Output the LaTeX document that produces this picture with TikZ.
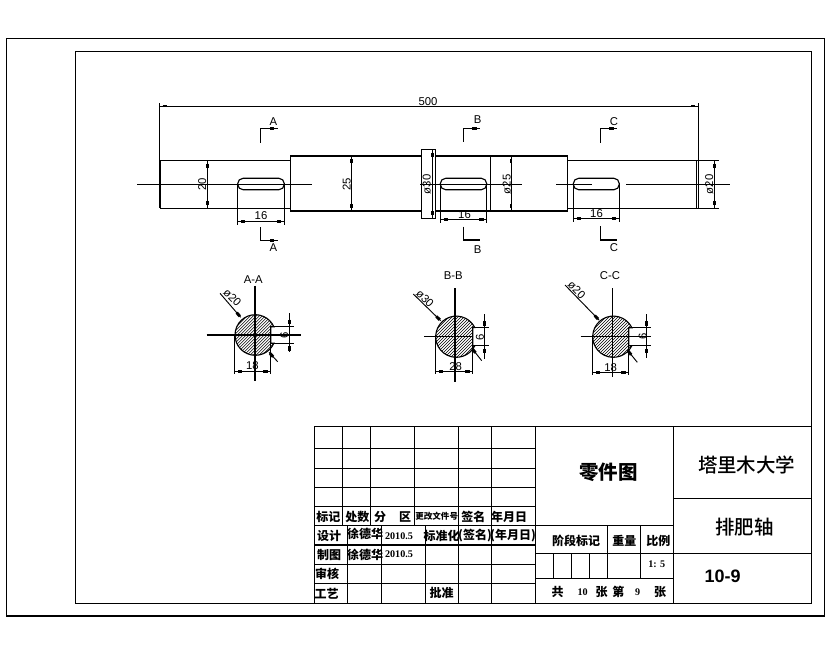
\documentclass[tikz,border=0pt]{standalone}
\usepackage{fontspec}
\usetikzlibrary{calc}
\setmainfont{Liberation Sans}
\newfontfamily\cjk{Noto Sans CJK SC}
\newfontfamily\cjkmed{Noto Sans CJK SC Medium}
\newfontfamily\serifnum{Liberation Serif}
\tikzset{
  ln/.style={line width=.85pt,black},
  thin ln/.style={line width=.7pt,black},
  hatchln/.style={line width=.35pt,black},
  tick/.style={line width=2.2pt,line cap=butt,black},
  dimtxt/.style={inner sep=0pt,font=\fontsize{8.5}{8.5}\selectfont},
  cjsmall/.style={inner sep=0pt,font=\cjk\bfseries\fontsize{9}{9}\selectfont},
  cjtiny/.style={inner sep=0pt,font=\cjk\bfseries\fontsize{6.4}{6.4}\selectfont},
  cjbig/.style={inner sep=0pt,font=\cjkmed\fontsize{14.6}{14.6}\selectfont},
  cjbold/.style={inner sep=0pt,font=\cjk\bfseries\fontsize{14.6}{14.6}\selectfont},
  numtxt/.style={inner sep=0pt,font=\serifnum\bfseries\fontsize{7.6}{7.6}\selectfont},
  boldnum/.style={inner sep=0pt,font=\bfseries\fontsize{13.5}{13.5}\selectfont},
}
% dimension line with a block arrow near each end
\newcommand{\dimln}[2]{%
  \draw[thin ln] (#1) -- (#2);
  \draw[tick] ($(#1)!2.4pt!(#2)$) -- ($(#1)!5.6pt!(#2)$);
  \draw[tick] ($(#2)!2.4pt!(#1)$) -- ($(#2)!5.6pt!(#1)$);
}
% leader with a block arrow at its second end
\newcommand{\leaderln}[2]{%
  \draw[thin ln] (#1) -- (#2);
  \draw[tick] ($(#2)!1pt!(#1)$) -- ($(#2)!4.6pt!(#1)$);
}
% section mark: corner x, far y, corner y, end x
\newcommand{\secmark}[4]{%
  \draw[ln] (#1,#2) -- (#1,#3) -- (#4,#3);
  \draw[tick] (#4-3.5,#3) -- (#4-8,#3);
}
% hatched section: cx, cy, r, flat x, half notch
\newcommand{\shaftsec}[5]{%
  \pgfmathsetmacro{\aa}{asin(#5/#3)}
  \pgfmathsetmacro{\xx}{#1+#3*cos(\aa)}
  \begin{scope}
    \clip (\xx,#2+#5) arc[start angle=\aa,end angle=360-\aa,radius=#3] -- (#4,#2-#5) -- (#4,#2+#5) -- cycle;
    \foreach \d in {-66,-63,...,66}
      \draw[hatchln] (#1+\d-30,#2+30) -- (#1+\d+30,#2-30);
  \end{scope}
  \draw[ln] (\xx,#2+#5) arc[start angle=\aa,end angle=360-\aa,radius=#3] -- (#4,#2-#5) -- (#4,#2+#5) -- cycle;
}
\begin{document}
\begin{tikzpicture}[x=.75pt,y=-.75pt]
\useasboundingbox (0,0) rectangle (830,654);
\fill[white] (0,0) rectangle (830,654);
% frames
\draw[ln] (6.3,38.5) rectangle (824.5,616);
\draw[ln] (75.3,51.5) rectangle (811.7,603.3);

% shaft outline
\draw[line width=1.5pt] (160,160.3) -- (160,208.3);
\draw[ln] (160,160.3) -- (290.3,160.3) (160,208.3) -- (290.3,208.3);
\draw[ln] (290.3,156) rectangle (421.3,211);
\draw[ln] (421.3,149.3) rectangle (435.7,218.3);
\draw[ln] (435.7,156) -- (567.7,156) -- (567.7,211) -- (435.7,211);
\draw[ln] (490.3,156) -- (490.3,211);
\draw[ln] (567.7,160.3) -- (719,160.3) (567.7,208.3) -- (719,208.3);
\draw[ln] (696.7,160.3) -- (696.7,208.3);
\draw[ln] (698.3,103) -- (698.3,208.3);
% centre line
\draw[ln] (137,184.3) -- (312,184.3);
\draw[ln] (420,184.3) -- (521.7,184.3);
\draw[ln] (556,184.3) -- (591.7,184.3);
\draw[ln] (626,184.3) -- (730,184.3);
% keyways
\draw[ln,rounded corners=4pt] (237.7,178.3) rectangle (284.3,189.7);
\draw[ln,rounded corners=4pt] (440.3,178.3) rectangle (486.7,189.7);
\draw[ln,rounded corners=4pt] (573.3,178.3) rectangle (619.3,189.7);
\draw[thin ln] (237.7,184.3) -- (237.7,225) (284.3,184.3) -- (284.3,225);
\draw[thin ln] (440.3,184.3) -- (440.3,223) (486.7,184.3) -- (486.7,223);
\draw[thin ln] (573.3,184.3) -- (573.3,222) (619.3,184.3) -- (619.3,222);
% overall dimension
\draw[thin ln] (159.3,103) -- (159.3,160.3);
\dimln{159.3,106}{698.3,106}
\node[dimtxt] (d500) at (428,101.5) {500};
% key widths
\dimln{237.7,221.3}{284.3,221.3}
\node[dimtxt] (k1) at (261,215.5) {16};
\dimln{440.3,219.3}{486.7,219.3}
\node[dimtxt] (k2) at (464.5,215) {16};
\dimln{573.3,218.3}{619.3,218.3}
\node[dimtxt] (k3) at (596.5,213.5) {16};
% diameters
\dimln{207.3,160.3}{207.3,208.3}
\node[dimtxt,rotate=90] (o20a) at (202.3,184.3) {20};
\dimln{351.7,156}{351.7,211}
\node[dimtxt,rotate=90] (o25a) at (346.7,184.3) {25};
\dimln{432.7,149.3}{432.7,218.3}
\node[dimtxt,rotate=90] (o30) at (426.7,184.3) {ø30};
\dimln{511,156}{511,211}
\node[dimtxt,rotate=90] (o25b) at (506.7,184.3) {ø25};
\dimln{714.3,160.3}{714.3,208.3}
\node[dimtxt,rotate=90] (o20b) at (709.3,184.3) {ø20};
% section marks
\secmark{260.3}{142.7}{128.3}{277.7}
\secmark{260.3}{227.3}{240.7}{277.7}
\secmark{463.3}{141.7}{128.3}{480}
\secmark{463.3}{226.7}{240}{480}
\secmark{600.3}{142.7}{128.3}{617.3}
\secmark{600.3}{226}{240}{617.3}
\node[dimtxt] (ma1) at (273.3,122) {A};
\node[dimtxt] (ma2) at (273.3,247.7) {A};
\node[dimtxt] (mb1) at (477.7,120) {B};
\node[dimtxt] (mb2) at (477.7,250) {B};
\node[dimtxt] (mc1) at (614,122) {C};
\node[dimtxt] (mc2) at (614,247.7) {C};

% section A-A
\shaftsec{255.3}{335}{20.3}{270.7}{8.2}
\draw[ln] (255,285.7) -- (255,380.7) (206.7,335) -- (301,335);
\draw[thin ln] (270.7,326.8) -- (294,326.8) (270.7,343.2) -- (294,343.2);
\draw[thin ln] (289.3,313) -- (289.3,352);
\draw[tick] (289.3,319.5) -- (289.3,324);
\draw[tick] (289.3,346) -- (289.3,350.5);
\node[dimtxt,rotate=90] (a6) at (284.3,335) {6};
\draw[thin ln] (234.8,335) -- (234.8,374) (270.7,335) -- (270.7,374);
\dimln{234.8,371.3}{270.7,371.3}
\node[dimtxt] (a18) at (252.3,366) {18};
\leaderln{220,293.3}{240.7,317.3}
\leaderln{277.7,361.7}{269,352.3}
\node[dimtxt,rotate=-45] (ao) at (232.3,297.3) {ø20};
\node[dimtxt] (at) at (253.3,279.3) {A-A};

% section B-B
\shaftsec{456.3}{336.7}{20.6}{472.7}{9.2}
\draw[ln] (455,288.3) -- (455,381.7) (424,336.7) -- (472.7,336.7);
\draw[thin ln] (472.7,327.5) -- (489.3,327.5) (472.7,345.9) -- (489.3,345.9);
\draw[thin ln] (484.3,314.3) -- (484.3,359);
\draw[tick] (484.3,321) -- (484.3,325.5);
\draw[tick] (484.3,348.5) -- (484.3,353);
\node[dimtxt,rotate=90] (b6) at (480,337) {6};
\draw[thin ln] (435.7,336.7) -- (435.7,374) (472.7,336.7) -- (472.7,374);
\dimln{435.7,371.3}{472.7,371.3}
\node[dimtxt] (b28) at (455.7,366.7) {28};
\leaderln{413.3,294}{440.7,320.7}
\leaderln{481.7,360.7}{471.7,348}
\node[dimtxt,rotate=-45] (bo) at (425,298.3) {ø30};
\node[dimtxt] (bt) at (453.3,276) {B-B};

% section C-C
\shaftsec{613.3}{336.7}{20.6}{628.7}{9}
\draw[ln] (612.3,288.3) -- (612.3,376.7) (580.7,336.7) -- (650.7,336.7);
\draw[thin ln] (628.7,327.7) -- (650.7,327.7) (628.7,345.7) -- (650.7,345.7);
\draw[thin ln] (646.7,314.3) -- (646.7,358.3);
\draw[tick] (646.7,321) -- (646.7,325.5);
\draw[tick] (646.7,348.5) -- (646.7,353);
\node[dimtxt,rotate=90] (c6) at (642.7,336.7) {6};
\draw[thin ln] (592.7,336.7) -- (592.7,375) (628.7,336.7) -- (628.7,375);
\dimln{592.7,372.3}{628.7,372.3}
\node[dimtxt] (c18) at (610.7,367.7) {18};
\leaderln{565,285}{599,320}
\leaderln{637.3,362.3}{627.3,350}
\node[dimtxt,rotate=-45] (co) at (576.7,290) {ø20};
\node[dimtxt] (ct) at (610,276) {C-C};

% title block grid
\draw[ln] (314.3,426.7) rectangle (811.7,603.3);
\foreach \y in {448.3,468.3,487.7,506.7,525.3,545,564.3,583.3}
  \draw[ln] (314.3,\y) -- (535.7,\y);
\foreach \x in {342.3,370.3,414.3}
  \draw[ln] (\x,426.7) -- (\x,525.3);
\foreach \x in {458.3,491.3}
  \draw[ln] (\x,426.7) -- (\x,603.3);
\foreach \x in {347.3,381.3,425.3}
  \draw[ln] (\x,525.3) -- (\x,603.3);
\draw[ln] (535.7,426.7) -- (535.7,603.3);
\draw[ln] (673.7,426.7) -- (673.7,603.3);
\draw[ln] (535.7,525.7) -- (673.7,525.7);
\draw[ln] (535.7,553.3) -- (811.7,553.3);
\draw[ln] (535.7,578.3) -- (673.7,578.3);
\draw[ln] (673.7,498.3) -- (811.7,498.3);
\foreach \x in {607.3,640.3}
  \draw[ln] (\x,525.7) -- (\x,578.3);
\foreach \x in {553.3,571.3,589.3}
  \draw[ln] (\x,553.3) -- (\x,578.3);

% title block text
\foreach \n/\x/\y/\t in {
  a/328.3/516.7/标记, b/357.3/516.7/处数, c/380/516.7/分, d/405/516.7/区,
  e/473.3/516.7/签名, f/509/516.7/年月日,
  g/329/535.7/设计, h/365/534.3/徐德华, i/441.7/535.7/标准化,
  j/475/535.7/(签名), k/513/535.7/(年月日),
  l/329/555/制图, m/365/555/徐德华, n/327/574/审核,
  o/326.7/593.3/工艺, p/441.7/593.3/批准,
  q/576/540.7/阶段标记, r/624.3/540.7/重量, s/658.3/540.7/比例,
  t/557.7/591.7/共, u/601.7/591.7/张, v/618.3/591.7/第, w/660/591.7/张}
  \node[cjsmall] (tb\n) at (\x,\y) {\t};
\node[cjtiny] (tbchg) at (436.7,516.7) {更改文件号};
\foreach \n/\x/\y/\t in {a/399/535.7/2010.5, b/399/554/2010.5, c/656.7/564/1: 5,
  d/582.7/591.7/10, e/637.7/591.7/9}
  \node[numtxt] (nm\n) at (\x,\y) {\t};
\node[cjbold] (tbpart) at (608.3,472.3) {零件图};
\node[cjbig] (tbuni) at (746.7,465) {塔里木大学};
\node[cjbig] (tbname) at (744.3,527.3) {排肥轴};
\node[boldnum] (tbno) at (722.7,576) {10-9};
\end{tikzpicture}
\end{document}
